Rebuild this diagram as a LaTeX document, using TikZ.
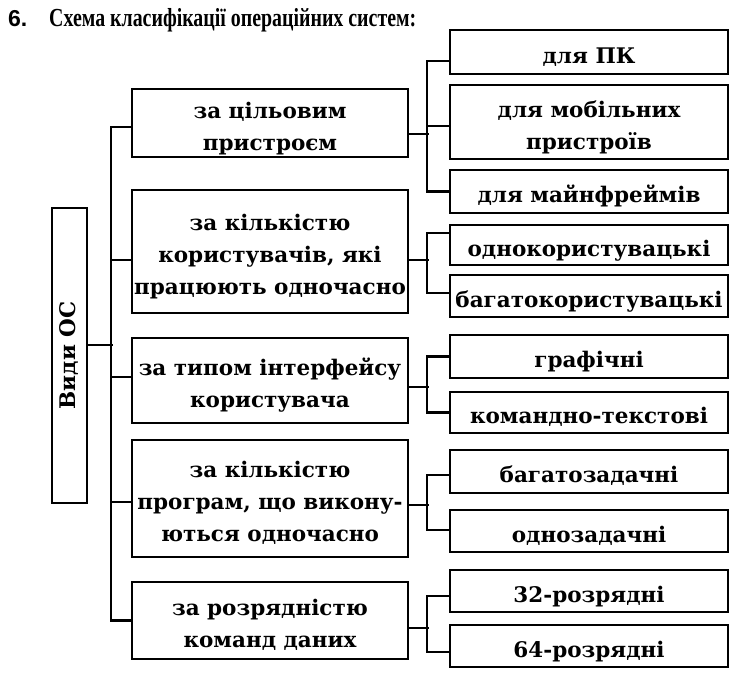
\documentclass[tikz,border=0pt]{standalone}
\usepackage{fontspec}
\setmainfont{DejaVu Serif}
\newfontfamily\titlefont[FakeStretch=0.765]{Liberation Serif}
\newfontfamily\numfont{Liberation Sans}
% text sits a little below the middle of each box
\newcommand{\lowtext}[1]{\raisebox{-5pt}[\height][\depth]{\begin{tabular}{@{}c@{}}#1\end{tabular}}}
\tikzset{
  osbox/.style={draw, line width=1.6pt, inner sep=2pt,
    font=\fontsize{21.5}{32}\selectfont\bfseries},
  midbox/.style={osbox, minimum width=276pt},
  kindbox/.style={osbox, minimum width=278pt},
  link/.style={line width=2.2pt}
}

\begin{document}
\begin{tikzpicture}[x=1pt, y=-1pt]
        \useasboundingbox[fill=white] (0,0) rectangle (737,679);
        % title
        \node[anchor=base west, inner sep=0pt, font=\numfont\bfseries\fontsize{23}{23}\selectfont] (num) at (8,27) {6.};
        \node[anchor=base west, inner sep=0pt, font=\titlefont\bfseries\fontsize{26}{26}\selectfont] (title) at (49,27) {Схема класифікації операційних систем:};
        % node
        \node[osbox, inner sep=0pt, minimum width=35pt, minimum height=295pt] (vidy) at (69.5,355.5) {\rotatebox{90}{Види ОС}};
        \node[midbox, minimum height=64pt] (m1) at (270,123) {\lowtext{за цільовим\\пристроєм}};
        \node[midbox, minimum height=123pt] (m2) at (270,251.5) {\lowtext{за кількістю\\користувачів, які\\працюють одночасно}};
        \node[midbox, minimum height=85pt] (m3) at (270,380.5) {\lowtext{за типом інтерфейсу\\користувача}};
        \node[midbox, minimum height=117pt] (m4) at (270,498.5) {\lowtext{за кількістю\\програм, що викону-\\ються одночасно}};
        \node[midbox, minimum height=77pt] (m5) at (270,620.5) {\lowtext{за розрядністю\\команд даних}};
        \node[kindbox, minimum height=44pt] (r1) at (589,52) {\lowtext{для ПК}};
        \node[kindbox, minimum height=74pt] (r2) at (589,122) {\lowtext{для мобільних\\пристроїв}};
        \node[kindbox, minimum height=43pt] (r3) at (589,191.5) {\lowtext{для майнфреймів}};
        \node[kindbox, minimum height=40pt] (r4) at (589,245) {\lowtext{однокористувацькі}};
        \node[kindbox, minimum height=42pt] (r5) at (589,296) {\lowtext{багатокористувацькі}};
        \node[kindbox, minimum height=43pt] (r6) at (589,356.5) {\lowtext{графічні}};
        \node[kindbox, minimum height=41pt] (r7) at (589,412.5) {\lowtext{командно-текстові}};
        \node[kindbox, minimum height=43pt] (r8) at (589,471.5) {\lowtext{багатозадачні}};
        \node[kindbox, minimum height=42pt] (r9) at (589,531) {\lowtext{однозадачні}};
        \node[kindbox, minimum height=42pt] (r10) at (589,591) {\lowtext{32-розрядні}};
        \node[kindbox, minimum height=42pt] (r11) at (589,646) {\lowtext{64-розрядні}};
        % lines
        \draw[link] ([yshift=10.5pt]vidy.east) -- ++(25,0);
        \draw[link] ([yshift=-4pt]m1.west) -- ++(-20,0) |- (m5.west);
        \foreach \m/\dm in {m2/-8.5, m3/3.5, m4/-3.5}
          \draw[link] ([yshift=\dm pt]\m.west) -- ++(-20,0);
        \draw[link] ([yshift=-9pt]r1.west) -- ++(-22,0) |- (r3.west);
        \draw[link] ([yshift=-4pt]r2.west) -- ++(-22,0);
        \draw[link] ([yshift=-11pt]m1.east) -- ++(20,0);
        \foreach \m/\dm/\a/\da/\b/\db in {m2/-8.5/r4/12/r5/3, m3/-6.5/r6/0/r7/0,
            m4/-6.5/r8/-3.5/r9/1, m5/-7.5/r10/-5/r11/-6} {
          \draw[link] ([yshift=\da pt]\a.west) -- ++(-22,0) |- ([yshift=\db pt]\b.west);
          \draw[link] ([yshift=\dm pt]\m.east) -- ++(20,0);
        }
      \end{tikzpicture}
\end{document}
